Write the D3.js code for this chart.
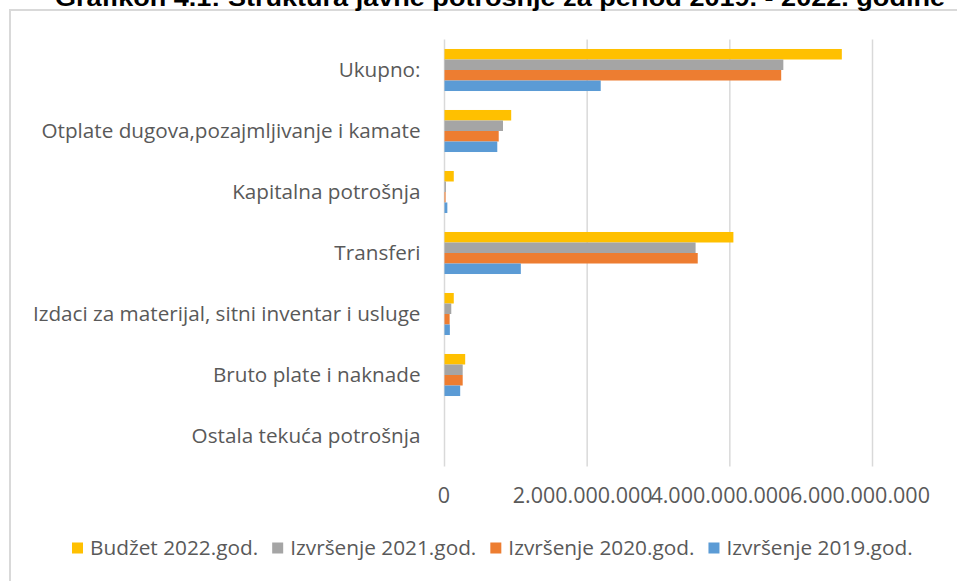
<!DOCTYPE html>
<html>
<head>
<meta charset="utf-8">
<script src="https://cdn.jsdelivr.net/npm/d3@7"></script>
<style>
  html, body { margin: 0; padding: 0; background: #fff; }
  svg { display: block; }
</style>
</head>
<body>
<svg id="chart" width="957" height="581"></svg>
<script>
// ---- Data ----
const titleText = "Grafikon 4.1: Struktura javne potrošnje za period 2019. - 2022. godine";
const categories = [
  "Ukupno:",
  "Otplate dugova,pozajmljivanje i kamate",
  "Kapitalna potrošnja",
  "Transferi",
  "Izdaci za materijal, sitni inventar i usluge",
  "Bruto plate i naknade",
  "Ostala tekuća potrošnja"
];
const seriesNames = ["Budžet 2022.god.", "Izvršenje 2021.god.", "Izvršenje 2020.god.", "Izvršenje 2019.god."];
const budget2022 = [5570000000, 935000000, 130000000, 4050000000, 130000000, 290000000, 0];
const exec2021   = [4750000000, 820000000, 20000000, 3520000000, 95000000, 255000000, 0];
const exec2020   = [4720000000, 760000000, 15000000, 3550000000, 72000000, 255000000, 0];
const exec2019   = [2190000000, 740000000, 40000000, 1070000000, 75000000, 220000000, 0];
const seriesValues = [budget2022, exec2021, exec2020, exec2019];
const seriesColors = ["#FFC000", "#A5A5A5", "#ED7D31", "#5B9BD5"];
const xTicks = [0, 2000000000, 4000000000, 6000000000];
const xTickLabels = ["0", "2.000.000.000", "4.000.000.000", "6.000.000.000"];

// ---- Layout ----
const svg = d3.select("#chart");
const plot = { left: 444.5, right: 872.5, top: 39.5, bottom: 466.5 };
const font = "'Open Sans', sans-serif";
const textColor = "#595959";
const gridColor = "#D9D9D9";

// chart frame
svg.append("rect")
  .attr("x", 10).attr("y", 10)
  .attr("width", 1000).attr("height", 700)
  .attr("fill", "#fff")
  .attr("stroke", gridColor).attr("stroke-width", 2);

// title (partially clipped at the top, as in the reference)
svg.append("text")
  .attr("x", 500).attr("y", 6)
  .attr("text-anchor", "middle")
  .attr("font-family", "'Liberation Sans', Arial, sans-serif")
  .attr("font-weight", "bold")
  .attr("font-size", 23)
  .attr("textLength", 890)
  .attr("lengthAdjust", "spacingAndGlyphs")
  .attr("fill", "#000")
  .text(titleText);

const x = d3.scaleLinear().domain([0, 6000000000]).range([plot.left, plot.right]);
const y = d3.scaleBand().domain(categories).range([plot.top, plot.bottom]).paddingInner(0.311).paddingOuter(0.1555);
const ySub = d3.scaleBand().domain(d3.range(seriesNames.length)).range([0, y.bandwidth()]);

// gridlines
svg.append("g").selectAll("line")
  .data(xTicks)
  .join("line")
  .attr("x1", d => x(d)).attr("x2", d => x(d))
  .attr("y1", plot.top).attr("y2", plot.bottom)
  .attr("stroke", gridColor).attr("stroke-width", 1.5);

// bars
const groups = svg.append("g").selectAll("g")
  .data(categories)
  .join("g")
  .attr("transform", d => `translate(0,${y(d)})`);

groups.selectAll("rect")
  .data((d, ci) => seriesValues.map((vals, si) => ({ si, v: vals[ci] })))
  .join("rect")
  .attr("x", x(0))
  .attr("y", d => ySub(d.si))
  .attr("width", d => Math.max(0, x(d.v) - x(0)))
  .attr("height", ySub.bandwidth())
  .attr("fill", d => seriesColors[d.si]);

// x axis labels
const xAxis = d3.axisBottom(x).tickValues(xTicks).tickSize(0).tickPadding(0)
  .tickFormat((d, i) => xTickLabels[i]);
const xg = svg.append("g").attr("transform", `translate(0,${plot.bottom})`).call(xAxis);
xg.select(".domain").remove();
const tickShift = [-1, -5, -10, -13];
xg.selectAll(".tick text")
  .attr("font-family", font).attr("font-size", 21.5).attr("fill", textColor)
  .attr("dy", 0).attr("y", 36)
  .attr("dx", (d, i) => tickShift[i]);

// y axis labels
const yAxis = d3.axisLeft(y).tickSize(0).tickPadding(24);
const yg = svg.append("g").attr("transform", `translate(${plot.left},0)`).call(yAxis);
yg.select(".domain").remove();
yg.selectAll(".tick text")
  .attr("font-family", font).attr("font-size", 20.7).attr("fill", textColor);

// legend
const legend = svg.append("g").attr("transform", "translate(72,548)");
let lx = 0;
seriesNames.forEach((name, i) => {
  const g = legend.append("g").attr("transform", `translate(${lx},0)`);
  g.append("rect").attr("x", 0).attr("y", -5.5).attr("width", 11).attr("height", 11).attr("fill", seriesColors[i]);
  const t = g.append("text").attr("x", 18).attr("y", 0).attr("dy", "0.35em")
    .attr("font-family", font).attr("font-size", 20.8).attr("fill", textColor).text(name);
  lx += 18 + t.node().getComputedTextLength() + 14;
});
</script>
</body>
</html>
